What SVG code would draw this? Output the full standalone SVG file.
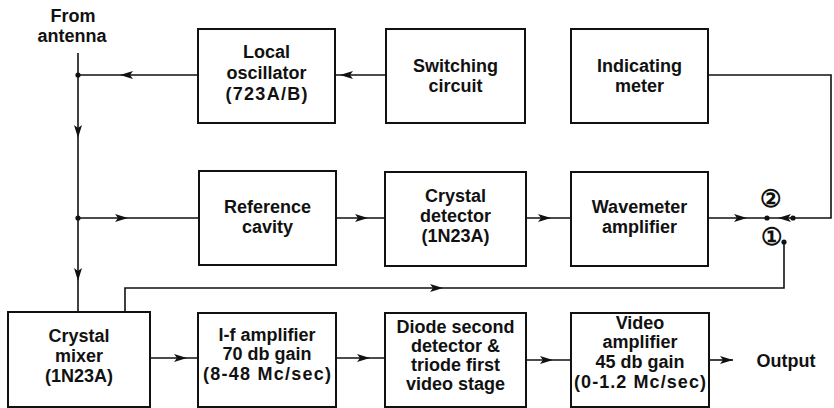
<svg xmlns="http://www.w3.org/2000/svg" xmlns:xlink="http://www.w3.org/1999/xlink" width="834" height="408" viewBox="0 0 834 408">
<style>
.box{fill:#fff;stroke:#111;stroke-width:2}
.ln{fill:none;stroke:#111;stroke-width:1.6}
.t{font-family:"Liberation Sans",Arial,sans-serif;font-weight:bold;font-size:18px;fill:#111;text-anchor:middle}
.c{font-size:24px}
.dot{fill:#111}
</style>
<defs>
<path id="ah" d="M0,0 L-13,-4 L-10,0 L-13,4 Z" fill="#111"/>
</defs>
<rect width="834" height="408" fill="#fff"/>
<g id="connectors">
<path class="ln" d="M78,53 V312"/>
<path class="ln" d="M198,75 H78"/>
<path class="ln" d="M386,75 H335"/>
<path class="ln" d="M78,218 H199"/>
<path class="ln" d="M336,218 H385"/>
<path class="ln" d="M526,218 H571"/>
<path class="ln" d="M708,218 H793"/>
<path class="ln" d="M793,218 H831 V75 H708"/>
<path class="ln" d="M784,242 V288 H125 V312"/>
<path class="ln" d="M150,358 H198"/>
<path class="ln" d="M336,358 H385"/>
<path class="ln" d="M526,360 H571"/>
<path class="ln" d="M709,360 H733"/>
<use xlink:href="#ah" transform="translate(120,75) rotate(180)"/>
<use xlink:href="#ah" transform="translate(340,75) rotate(180)"/>
<use xlink:href="#ah" transform="translate(78,138) rotate(90)"/>
<use xlink:href="#ah" transform="translate(128,218)"/>
<use xlink:href="#ah" transform="translate(78,281) rotate(90)"/>
<use xlink:href="#ah" transform="translate(368,218)"/>
<use xlink:href="#ah" transform="translate(551,218)"/>
<use xlink:href="#ah" transform="translate(747,218)"/>
<use xlink:href="#ah" transform="translate(778,218) rotate(180)"/>
<use xlink:href="#ah" transform="translate(443,288)"/>
<use xlink:href="#ah" transform="translate(187,358)"/>
<use xlink:href="#ah" transform="translate(370,358)"/>
<use xlink:href="#ah" transform="translate(553,360)"/>
<use xlink:href="#ah" transform="translate(733,360)"/>
<circle class="dot" cx="78" cy="75" r="2.6"/>
<circle class="dot" cx="78" cy="218" r="2.6"/>
<circle class="dot" cx="767" cy="218" r="2.6"/>
<circle class="dot" cx="793" cy="218" r="2.6"/>
<circle class="dot" cx="784" cy="242" r="2.6"/>
</g>
<g id="antenna"><text class="t" x="73" y="22">From</text><text class="t" x="72" y="42">antenna</text></g>
<g id="local-oscillator"><rect class="box" x="198" y="29" width="137" height="94"/>
<text class="t" x="266.5" y="58">Local</text><text class="t" x="266.5" y="79">oscillator</text><text class="t" x="266.5" y="100" textLength="82" lengthAdjust="spacing">(723A/B)</text></g>
<g id="switching-circuit"><rect class="box" x="386" y="29" width="139" height="94"/>
<text class="t" x="455.5" y="72">Switching</text><text class="t" x="455.5" y="92">circuit</text></g>
<g id="indicating-meter"><rect class="box" x="571" y="29" width="137" height="94"/>
<text class="t" x="639.5" y="72">Indicating</text><text class="t" x="639.5" y="92">meter</text></g>
<g id="reference-cavity"><rect class="box" x="199" y="171" width="137" height="94"/>
<text class="t" x="267.5" y="213">Reference</text><text class="t" x="267.5" y="233">cavity</text></g>
<g id="crystal-detector"><rect class="box" x="385" y="172" width="141" height="94"/>
<text class="t" x="455.5" y="202">Crystal</text><text class="t" x="455.5" y="222">detector</text><text class="t" x="455.5" y="242">(1N23A)</text></g>
<g id="wavemeter-amplifier"><rect class="box" x="571" y="172" width="137" height="94"/>
<text class="t" x="639.5" y="213">Wavemeter</text><text class="t" x="639.5" y="233">amplifier</text></g>
<g id="switch-labels"><text class="t c" x="771" y="207">②</text><text class="t c" x="772" y="245">①</text></g>
<g id="crystal-mixer"><rect class="box" x="8" y="312" width="142" height="95"/>
<text class="t" x="79" y="342">Crystal</text><text class="t" x="79" y="362">mixer</text><text class="t" x="79" y="382">(1N23A)</text></g>
<g id="if-amplifier"><rect class="box" x="198" y="313" width="138" height="94"/>
<text class="t" x="267" y="341">I-f amplifier</text><text class="t" x="267" y="360">70 db gain</text><text class="t" x="267" y="380" textLength="128" lengthAdjust="spacing">(8-48 Mc/sec)</text></g>
<g id="diode-detector"><rect class="box" x="385" y="313" width="141" height="94"/>
<text class="t" x="455.5" y="333">Diode second</text><text class="t" x="455.5" y="352">detector &amp;</text><text class="t" x="455.5" y="371">triode first</text><text class="t" x="455.5" y="390">video stage</text></g>
<g id="video-amplifier"><rect class="box" x="571" y="313" width="138" height="94"/>
<text class="t" x="640" y="329">Video</text><text class="t" x="640" y="348">amplifier</text><text class="t" x="640" y="368">45 db gain</text><text class="t" x="640" y="388" textLength="132" lengthAdjust="spacing">(0-1.2 Mc/sec)</text></g>
<g id="output"><text class="t" x="786" y="367">Output</text></g>
</svg>
